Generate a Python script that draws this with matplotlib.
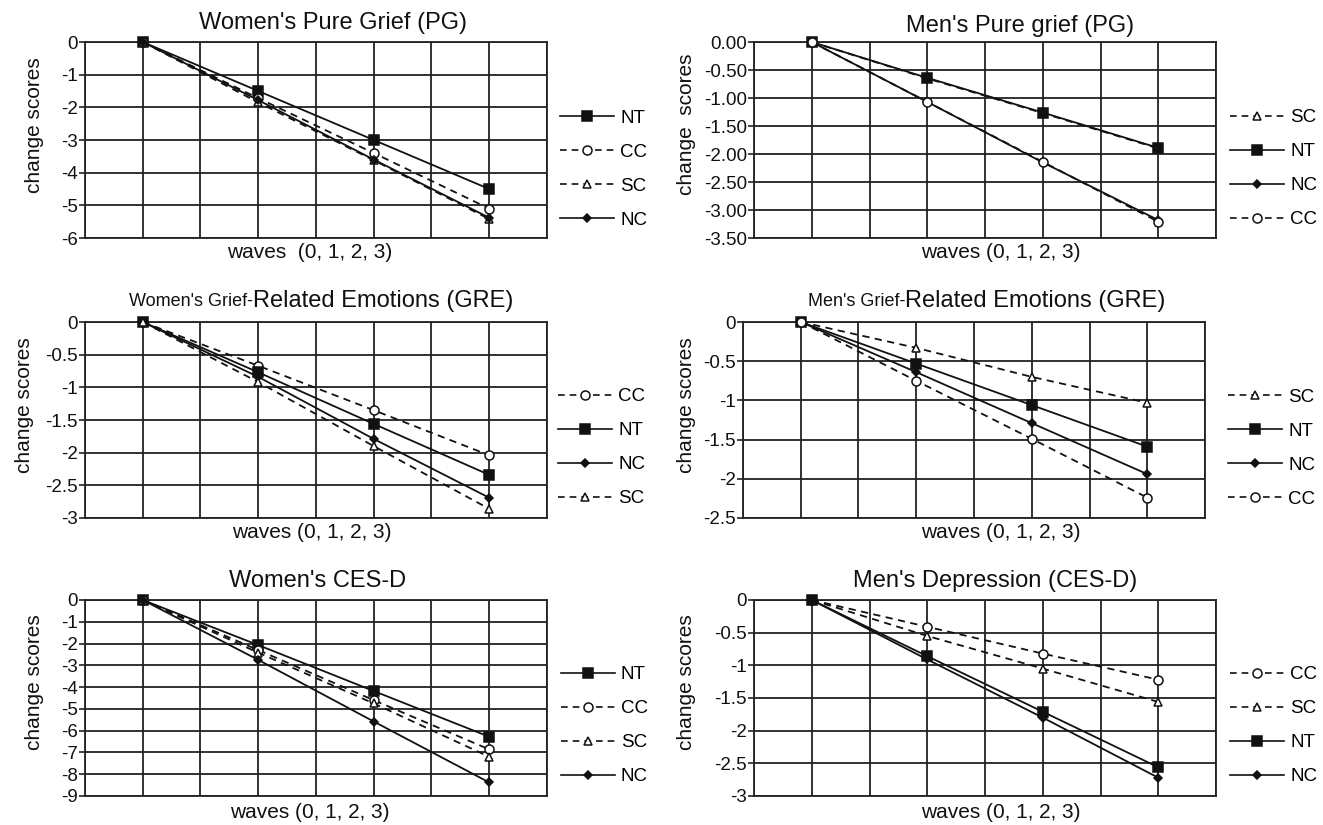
import matplotlib
matplotlib.use("Agg")
import matplotlib.pyplot as plt
from matplotlib.lines import Line2D

plt.rcParams['font.family'] = ['Liberation Sans', 'DejaVu Sans']
plt.rcParams['axes.unicode_minus'] = False

W, H = 1323, 825

waves = [0, 1, 2, 3]

# change scores, per panel
women_pg = {"NT": [0, -1.5, -3.0, -4.5], "CC": [0, -1.72, -3.4, -5.1],
            "SC": [0, -1.85, -3.62, -5.42], "NC": [0, -1.78, -3.6, -5.38]}
men_pg = {"SC": [0, -0.65, -1.27, -1.9], "NT": [0, -0.64, -1.26, -1.89],
          "NC": [0, -1.07, -2.15, -3.18], "CC": [0, -1.07, -2.14, -3.21]}
women_gre = {"CC": [0, -0.67, -1.35, -2.04], "NT": [0, -0.77, -1.56, -2.34],
             "NC": [0, -0.84, -1.79, -2.69], "SC": [0, -0.92, -1.9, -2.86]}
men_gre = {"SC": [0, -0.33, -0.7, -1.03], "NT": [0, -0.53, -1.06, -1.59],
           "NC": [0, -0.64, -1.29, -1.94], "CC": [0, -0.75, -1.49, -2.24]}
women_cesd = {"NT": [0, -2.07, -4.18, -6.28], "CC": [0, -2.3, -4.6, -6.86],
              "SC": [0, -2.42, -4.75, -7.2], "NC": [0, -2.75, -5.58, -8.38]}
men_cesd = {"CC": [0, -0.41, -0.82, -1.22], "SC": [0, -0.55, -1.05, -1.56],
            "NT": [0, -0.86, -1.71, -2.56], "NC": [0, -0.91, -1.8, -2.72]}

styles = {
    "NT": dict(ls="-", marker="s", mfc="#111111", ms=7),
    "CC": dict(ls=(0, (4, 3)), marker="o", mfc="white", ms=6.5),
    "SC": dict(ls=(0, (4, 3)), marker="^", mfc="white", ms=6),
    "NC": dict(ls="-", marker="D", mfc="#111111", ms=4.5),
}

GRID = "#222222"
INK = "#111111"


def px(x, y):
    return x / W, 1 - y / H


def make_axes(fig, left, right, top, bottom):
    x0, y0 = px(left, bottom)
    return fig.add_axes([x0, y0, (right - left) / W, (bottom - top) / H])


def draw_panel(fig, box, data, ymin, step, fmt, title_parts, title_x, title_y,
               xlabel, xlabel_x, xlabel_y, ylabel, ylabel_x, ylabel_y, leg_x, leg_y):
    ax = make_axes(fig, *box)
    names = []
    for name, vals in data.items():
        st = styles[name]
        ax.plot([2 * w + 1 for w in waves], vals, color=INK, lw=1.3,
                ls=st["ls"], marker=st["marker"], mfc=st["mfc"], mec=INK,
                mew=1.1, ms=st["ms"], zorder=3, clip_on=False)
        names.append(name)
    ax.set_xlim(0, 8)
    ax.set_ylim(ymin, 0)
    n = int(round(-ymin / step))
    ticks = [-step * i for i in range(n + 1)]
    ax.set_yticks(ticks)
    ax.set_yticklabels([fmt(t) for t in ticks])
    ax.set_xticks(range(9))
    ax.set_xticklabels([])
    ax.tick_params(axis="x", length=0)
    ax.tick_params(axis="y", length=4, width=1.2, color=GRID, pad=1, labelsize=13.5,
                   labelcolor=INK)
    ax.grid(True, color=GRID, lw=1.3)
    ax.set_axisbelow(True)
    for sp in ax.spines.values():
        sp.set_color(GRID)
        sp.set_linewidth(1.3)

    # title, the GRE ones mix two font sizes
    if len(title_parts) == 1:
        fig.text(*px(title_x, title_y), title_parts[0], ha="center", va="center",
                 fontsize=17, color=INK)
    else:
        small, big = title_parts
        fig.text(*px(title_x, title_y + 1), small, ha="right", va="center",
                 fontsize=13, color=INK)
        fig.text(*px(title_x, title_y), big, ha="left", va="center",
                 fontsize=17, color=INK)

    fig.text(*px(xlabel_x, xlabel_y), xlabel, ha="center", va="center",
             fontsize=15, color=INK)
    fig.text(*px(ylabel_x, ylabel_y), ylabel, ha="center", va="center",
             rotation=90, fontsize=15, color=INK)

    leg_handles = [Line2D([], [], color=INK, lw=1.2, ls=styles[nm]["ls"],
                          marker=styles[nm]["marker"], mfc=styles[nm]["mfc"],
                          mec=INK, mew=1.1, ms=styles[nm]["ms"]) for nm in names]
    fig.legend(leg_handles, names, loc="center left",
               bbox_to_anchor=px(leg_x, leg_y), frameon=False, fontsize=13.5,
               borderpad=0, borderaxespad=0, handlelength=2.9, handletextpad=0.3,
               labelspacing=0.9)
    return ax


def int_fmt(v):
    return "%g" % v if v != 0 else "0"


def two_dec(v):
    return "%.2f" % v if v != 0 else "0.00"


fig = plt.figure(figsize=(W / 100, H / 100), dpi=100)

draw_panel(fig, (85, 547, 42, 238), women_pg, -6, 1, int_fmt,
           ["Women's Pure Grief (PG)"], 333, 23,
           "waves  (0, 1, 2, 3)", 310, 253, "change scores", 35, 125, 560, 169)
draw_panel(fig, (754, 1216, 42, 238), men_pg, -3.5, 0.5, two_dec,
           ["Men's Pure grief (PG)"], 1020, 26,
           "waves (0, 1, 2, 3)", 1001, 253, "change  scores", 687, 124, 1230, 168.5)
draw_panel(fig, (85, 547, 322, 518), women_gre, -3, 0.5, int_fmt,
           ["Women's Grief-", "Related Emotions (GRE)"], 253, 301,
           "waves (0, 1, 2, 3)", 312, 533, "change scores", 25, 405, 558, 447.5)
draw_panel(fig, (743, 1205, 322, 518), men_gre, -2.5, 0.5, int_fmt,
           ["Men's Grief-", "Related Emotions (GRE)"], 905, 301,
           "waves (0, 1, 2, 3)", 1001, 533, "change scores", 686, 405, 1228, 448.5)
draw_panel(fig, (85, 547, 600, 796), women_cesd, -9, 1, int_fmt,
           ["Women's CES-D"], 318, 581,
           "waves (0, 1, 2, 3)", 310, 812, "change scores", 35, 682, 561, 725.5)
draw_panel(fig, (754, 1216, 600, 796), men_cesd, -3, 0.5, int_fmt,
           ["Men's Depression (CES-D)"], 995, 581,
           "waves (0, 1, 2, 3)", 1001, 812, "change scores", 686, 682, 1230, 725.5)

fig.savefig("out.png", dpi=100, facecolor="white")
